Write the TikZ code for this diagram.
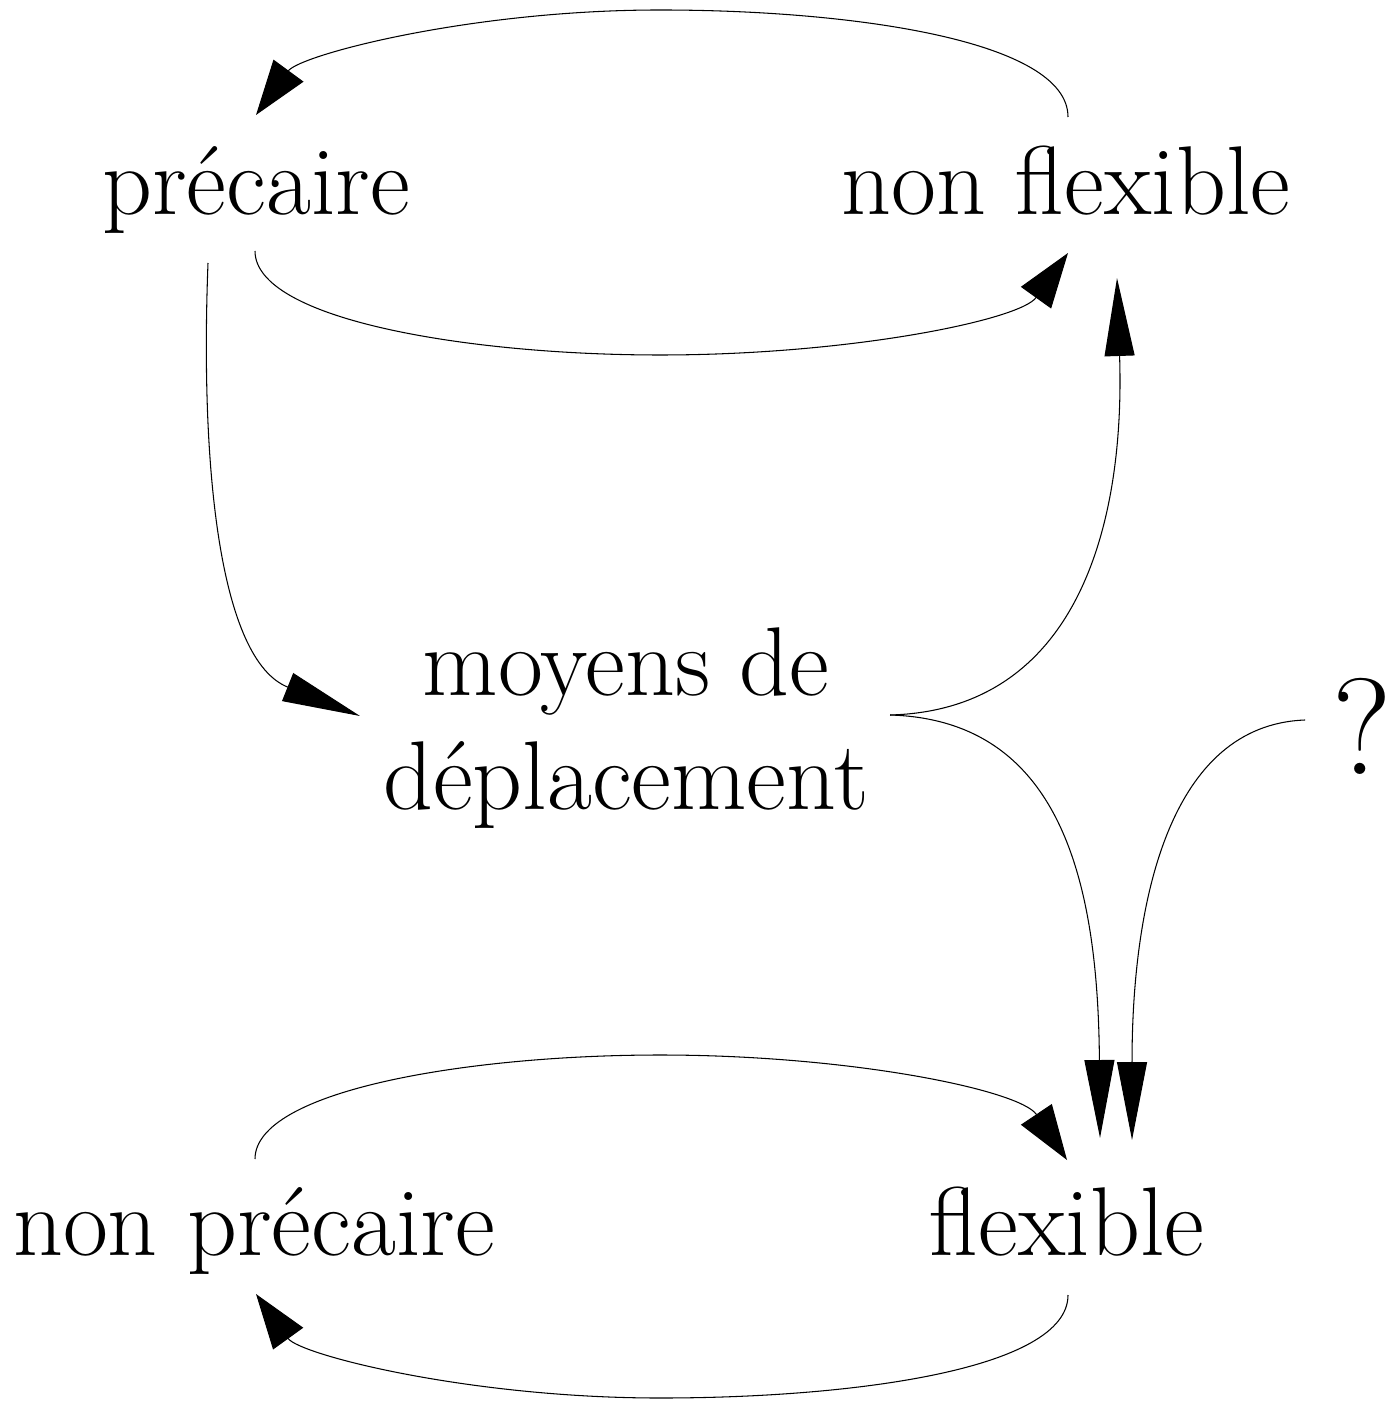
\documentclass[tikz,border=0pt]{standalone}
\usetikzlibrary{arrows.meta}
\tikzset{
  word/.style={font=\fontsize{27.8}{32.6}\selectfont, inner sep=0pt},
  link/.style={line width=0.3pt},
  loopto/.style={link, -{Triangle[length=5.5mm,width=3.7mm]}},
  longto/.style={link, -{Triangle[length=7.8mm,width=3mm]}},
}
\begin{document}
\begin{tikzpicture}[x=1cm, y=-1cm]
    \useasboundingbox (0,0) rectangle (13.9,14.01);

    % Words
    \node[word, anchor=base] (prec) at (2.56,2.15) {précaire};
    \node[word, anchor=base] (nonflex) at (10.66,2.15) {non flexible};
    \node[word, align=center] (moyens) at (6.26,7.28) {moyens de\\déplacement};
    \node[word, anchor=base, font=\fontsize{39}{40}\selectfont] (quest) at (13.62,7.74) {?};
    \node[word, anchor=base] (nonprec) at (2.54,12.55) {non précaire};
    \node[word, anchor=base] (flex) at (10.67,12.55) {flexible};

    % Ports
    \coordinate (prec-in) at (2.56,1.15);
    \coordinate (prec-out) at (2.55,2.51);
    \coordinate (prec-down) at (2.08,2.63);
    \coordinate (nonflex-out) at (10.68,1.17);
    \coordinate (nonflex-in) at (10.68,2.53);
    \coordinate (nonflex-up) at (11.17,2.78);
    \coordinate (moyens-in) at (3.60,7.16);
    \coordinate (moyens-out) at (8.90,7.15);
    \coordinate (quest-out) at (13.05,7.20);
    \coordinate (flex-in1) at (11.00,11.38);
    \coordinate (flex-in2) at (11.32,11.40);
    \coordinate (flex-in) at (10.67,11.60);
    \coordinate (flex-out) at (10.68,12.95);
    \coordinate (nonprec-in) at (2.56,12.94);
    \coordinate (nonprec-out) at (2.55,11.59);

    % Top loop
    \draw[loopto] (nonflex-out) .. controls (10.68,0.40) and (8.50,0.10) .. (6.60,0.10)
        .. controls (4.70,0.10) and (3.00,0.55) .. (prec-in);
    \draw[loopto] (prec-out) .. controls (2.55,3.20) and (4.70,3.55) .. (6.60,3.55)
        .. controls (8.50,3.55) and (10.20,3.20) .. (nonflex-in);

    % Middle
    \draw[longto] (prec-down) .. controls (2.00,4.70) and (2.20,6.60) .. (moyens-in);
    \draw[longto] (moyens-out) .. controls (10.80,7.10) and (11.25,5.20) .. (nonflex-up);
    \draw[longto] (moyens-out) .. controls (10.60,7.20) and (10.98,8.80) .. (flex-in1);
    \draw[longto] (quest-out) .. controls (11.70,7.25) and (11.32,9.00) .. (flex-in2);

    % Bottom loop
    \draw[loopto] (nonprec-out) .. controls (2.55,10.90) and (4.70,10.55) .. (6.60,10.55)
        .. controls (8.50,10.55) and (10.20,10.90) .. (flex-in);
    \draw[loopto] (flex-out) .. controls (10.68,13.70) and (8.50,13.98) .. (6.60,13.98)
        .. controls (4.70,13.98) and (3.00,13.55) .. (nonprec-in);
\end{tikzpicture}
\end{document}
